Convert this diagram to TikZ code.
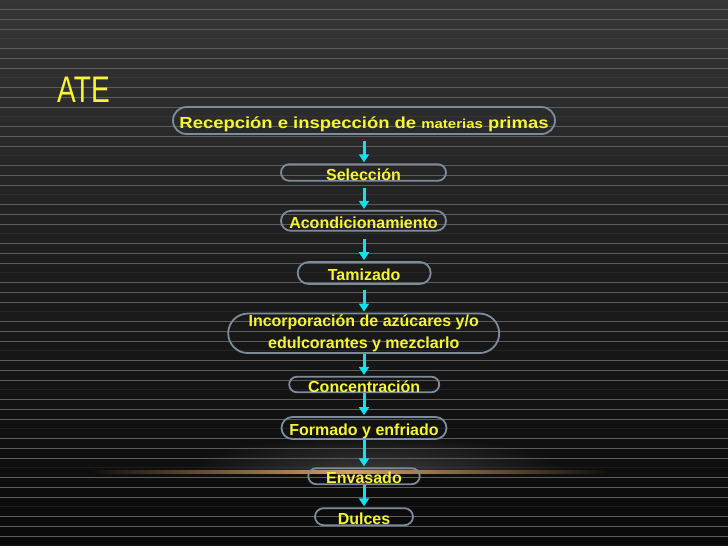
\documentclass[tikz,border=0pt]{standalone}
\usepackage{fontspec}
\setmainfont{Liberation Sans}
\usetikzlibrary{arrows.meta,fadings}
\definecolor{bgtop}{RGB}{54,54,54}
\definecolor{bgmid}{RGB}{28,28,28}
\definecolor{bgbot}{RGB}{9,9,9}
\definecolor{bgline}{RGB}{14,14,14}
\definecolor{stripe}{RGB}{92,92,92}
\definecolor{yel}{RGB}{245,245,50}
\definecolor{boxc}{RGB}{125,140,155}
\definecolor{cyanc}{RGB}{20,225,235}
\definecolor{glowc}{RGB}{215,160,100}
\definecolor{haze}{RGB}{80,80,80}
\tikzfading[name=softglow, inner color=transparent!35, outer color=transparent!100]
\begin{document}
\begin{tikzpicture}[x=1pt,y=-1pt,
  stage/.style={draw=boxc, line width=1.8pt, inner sep=0pt, text=yel,
    font=\fontsize{16}{22}\selectfont\bfseries, align=center},
  oneline/.style={text height=15pt, text depth=0pt},
  flow/.style={draw=cyanc, line width=3pt, -{Triangle[width=10pt,length=8pt]}, shorten >=1pt},
  rule/.style={draw=stripe, line width=0.9pt},
  faintrule/.style={draw=stripe, line width=0.9pt, draw opacity=0.2}
]
\useasboundingbox (0,0) rectangle (728,546);
% background
\shade[top color=bgtop, bottom color=bgbot, middle color=bgmid] (0,0) rectangle (728,546);
% haze above the horizon
\begin{scope}
  \clip (0,0) rectangle (728,471);
  \fill[haze, path fading=softglow] (375,471) ellipse [x radius=190, y radius=36];
\end{scope}
% stripes
\foreach \k in {0,...,13} {
  \foreach \d in {0,10,20} {
    \draw[rule] (0,{9.3+39*\k+\d}) -- (728,{9.3+39*\k+\d});
  }
  \draw[faintrule] (0,{38.8+39*\k}) -- (728,{38.8+39*\k});
}
% orange horizon line
\shade[left color=bgline, right color=bgline, middle color=glowc] (90,470.2) rectangle (610,473.6);

% title
\node[anchor=base west, inner sep=0pt, text=yel, font=\fontsize{37}{37}\selectfont] (title) at (57,102.3) {\scalebox{0.76}[1]{ATE}};

% stages
\node[stage, oneline, minimum width=382pt, minimum height=27pt, rounded corners=13.5pt] (rec) at (364,120.5)
  {\resizebox{369pt}{\height}{Recepción e inspección de {\fontsize{13}{16}\selectfont materias} primas}};
\node[stage, oneline, minimum width=165pt, minimum height=16.6pt, rounded corners=8.3pt] (sel) at (363.5,172.5) {Selección};
\node[stage, oneline, minimum width=165pt, minimum height=20pt, rounded corners=10pt] (acon) at (363.5,220.8) {Acondicionamiento};
\node[stage, oneline, minimum width=133pt, minimum height=22pt, rounded corners=11pt] (tam) at (364.2,273) {Tamizado};
\node[stage, minimum width=271pt, minimum height=39.5pt, rounded corners=19.7pt] (inc) at (363.7,333.3)
  {Incorporación de azúcares y/o\\edulcorantes y mezclarlo};
\node[stage, oneline, minimum width=150pt, minimum height=15.5pt, rounded corners=7.7pt] (conc) at (364.2,384.5) {Concentración};
\node[stage, oneline, minimum width=165pt, minimum height=22pt, rounded corners=11pt] (form) at (364,428) {Formado y enfriado};
\node[stage, oneline, minimum width=111.5pt, minimum height=16pt, rounded corners=8pt] (env) at (364,476.2) {Envasado};
\node[stage, oneline, minimum width=98pt, minimum height=17pt, rounded corners=8.5pt] (dul) at (364,516.7) {Dulces};

% connectors
\coordinate (ax) at (364,0);
\draw[flow, shorten <=6pt] (rec.south -| ax) -- (sel.north -| ax);
\draw[flow, shorten <=6pt] (sel.south -| ax) -- (acon.north -| ax);
\draw[flow, shorten <=7pt] (acon.south -| ax) -- (tam.north -| ax);
\draw[flow, shorten <=5pt] (tam.south -| ax) -- (inc.north -| ax);
\draw[flow] (inc.south -| ax) -- (conc.north -| ax);
\draw[flow] (conc.south -| ax) -- (form.north -| ax);
\draw[flow] (form.south -| ax) -- (env.north -| ax);
\draw[flow] (env.south -| ax) -- (dul.north -| ax);
\end{tikzpicture}
\end{document}
